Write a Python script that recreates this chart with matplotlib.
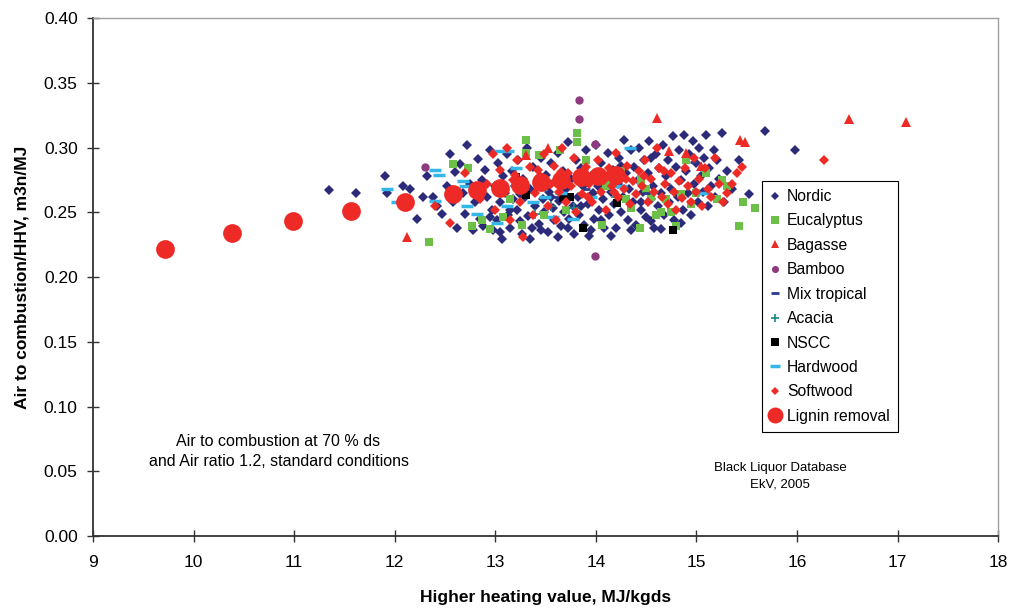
import numpy as np
import matplotlib
matplotlib.use("Agg")
import matplotlib.pyplot as plt

plt.rcParams['font.family'] = ['Liberation Sans', 'DejaVu Sans']

# data: (HHV MJ/kgds, air/HHV m3n/MJ)
nordic = [
    (11.35, 0.267), (11.62, 0.265), (11.90, 0.278), (11.92, 0.265), (12.08, 0.270),
    (12.15, 0.268), (12.22, 0.245), (12.28, 0.262),
    (12.32, 0.278), (12.38, 0.262), (12.42, 0.255), (12.47, 0.249), (12.52, 0.270),
    (12.55, 0.295), (12.58, 0.258), (12.60, 0.281),
    (12.62, 0.238), (12.65, 0.287), (12.68, 0.265), (12.70, 0.249), (12.72, 0.302),
    (12.75, 0.272), (12.78, 0.236), (12.80, 0.258), (12.83, 0.291), (12.85, 0.245),
    (12.87, 0.275), (12.88, 0.239), (12.90, 0.283),
    (12.92, 0.262), (12.95, 0.298), (12.97, 0.252), (12.98, 0.236), (13.00, 0.270),
    (13.02, 0.244), (13.03, 0.288), (13.05, 0.258), (13.07, 0.229), (13.08, 0.278),
    (13.10, 0.265), (13.12, 0.295), (13.13, 0.248), (13.15, 0.238), (13.17, 0.282),
    (13.18, 0.260), (13.20, 0.270),
    (13.22, 0.252), (13.23, 0.290), (13.25, 0.243), (13.27, 0.233), (13.28, 0.276),
    (13.30, 0.262), (13.32, 0.300), (13.33, 0.247), (13.35, 0.268), (13.37, 0.238),
    (13.38, 0.285), (13.40, 0.255), (13.42, 0.272), (13.43, 0.241), (13.45, 0.292),
    (13.47, 0.260), (13.48, 0.250), (13.50, 0.279),
    (13.52, 0.235), (13.53, 0.266), (13.55, 0.288), (13.57, 0.253), (13.58, 0.244),
    (13.60, 0.274), (13.62, 0.296), (13.63, 0.259), (13.65, 0.239), (13.67, 0.282),
    (13.68, 0.250), (13.70, 0.268), (13.72, 0.304), (13.73, 0.245), (13.75, 0.276),
    (13.77, 0.255), (13.78, 0.233), (13.80, 0.290),
    (13.82, 0.262), (13.83, 0.248), (13.85, 0.284), (13.87, 0.270), (13.88, 0.240),
    (13.90, 0.298), (13.92, 0.256), (13.93, 0.232), (13.95, 0.278), (13.97, 0.265),
    (13.98, 0.245), (14.00, 0.302), (14.02, 0.270), (14.03, 0.252), (14.05, 0.288),
    (14.07, 0.260), (14.08, 0.238), (14.10, 0.276),
    (14.12, 0.296), (14.13, 0.248), (14.15, 0.266), (14.17, 0.283), (14.18, 0.256),
    (14.20, 0.238), (14.22, 0.272), (14.23, 0.292), (14.25, 0.250), (14.27, 0.262),
    (14.28, 0.306), (14.30, 0.280), (14.32, 0.244), (14.33, 0.268), (14.35, 0.298),
    (14.37, 0.258), (14.38, 0.285), (14.40, 0.240),
    (14.42, 0.275), (14.43, 0.300), (14.45, 0.252), (14.47, 0.266), (14.48, 0.290),
    (14.50, 0.246), (14.52, 0.280), (14.53, 0.305), (14.55, 0.260), (14.57, 0.270),
    (14.58, 0.238), (14.60, 0.295), (14.62, 0.255), (14.63, 0.284), (14.65, 0.265),
    (14.67, 0.302), (14.68, 0.248), (14.70, 0.278),
    (14.72, 0.290), (14.73, 0.258), (14.75, 0.268), (14.77, 0.309), (14.78, 0.244),
    (14.80, 0.285), (14.82, 0.262), (14.83, 0.298), (14.85, 0.275), (14.87, 0.252),
    (14.88, 0.310), (14.90, 0.282), (14.92, 0.265), (14.93, 0.295), (14.95, 0.248),
    (14.97, 0.305), (14.98, 0.272), (15.00, 0.288),
    (15.02, 0.258), (15.03, 0.300), (15.05, 0.278), (15.07, 0.266), (15.08, 0.292),
    (15.10, 0.310), (15.12, 0.255), (15.13, 0.284), (15.15, 0.270), (15.17, 0.298),
    (15.18, 0.262), (15.20, 0.290), (15.22, 0.276), (15.25, 0.311), (15.27, 0.258),
    (15.30, 0.282), (15.35, 0.268), (15.42, 0.290), (15.52, 0.264), (15.68, 0.313),
    (15.98, 0.298),
    (12.95, 0.246), (13.05, 0.235), (13.15, 0.252), (13.35, 0.229), (13.45, 0.236),
    (13.62, 0.231), (13.72, 0.238), (13.95, 0.236), (14.05, 0.244), (14.15, 0.232),
    (14.35, 0.236), (14.55, 0.243), (14.65, 0.237), (14.85, 0.242), (14.45, 0.258),
    (13.25, 0.264), (13.55, 0.262), (13.85, 0.255), (14.25, 0.286), (14.55, 0.292),
]
eucalyptus = [
    (12.34, 0.227), (12.58, 0.287), (12.73, 0.284), (12.77, 0.239), (12.87, 0.244),
    (12.80, 0.268), (12.95, 0.237), (13.08, 0.246), (13.15, 0.260), (13.27, 0.240),
    (13.31, 0.306), (13.31, 0.296), (13.43, 0.294), (13.48, 0.248), (13.64, 0.298),
    (13.70, 0.252), (13.81, 0.311), (13.81, 0.304), (13.90, 0.290), (14.06, 0.240),
    (14.10, 0.270), (14.15, 0.275), (14.25, 0.282), (14.30, 0.260), (14.35, 0.253),
    (14.44, 0.238), (14.45, 0.275), (14.50, 0.268), (14.55, 0.262), (14.60, 0.248),
    (14.65, 0.250), (14.70, 0.260), (14.75, 0.250), (14.80, 0.239), (14.85, 0.264),
    (14.90, 0.290), (14.95, 0.256), (15.00, 0.265), (15.10, 0.280), (15.20, 0.260),
    (15.25, 0.275), (15.30, 0.270), (15.42, 0.239), (15.46, 0.258), (15.58, 0.253),
]
bagasse = [
    (12.12, 0.231), (13.31, 0.294), (13.52, 0.300), (14.61, 0.323), (14.73, 0.297),
    (14.90, 0.296), (15.05, 0.286), (15.43, 0.306), (15.48, 0.304), (16.52, 0.322),
    (17.08, 0.320),
]
bamboo = [
    (12.30, 0.285), (13.83, 0.337), (13.83, 0.322), (13.99, 0.303), (13.99, 0.216),
]
mix_tropical = [
    (13.30, 0.270), (13.90, 0.268), (14.50, 0.265), (14.70, 0.272), (14.98, 0.289),
    (13.60, 0.262),
]
acacia = [
    (13.40, 0.249), (13.55, 0.255), (13.78, 0.253), (14.20, 0.262),
]
nscc = [
    (13.21, 0.277), (13.31, 0.263), (13.67, 0.261), (13.74, 0.262), (13.87, 0.238),
    (14.21, 0.257), (14.77, 0.236),
]
hardwood = [
    (11.92, 0.268), (12.02, 0.258), (12.40, 0.283), (12.44, 0.279), (12.40, 0.259),
    (12.68, 0.274), (12.70, 0.270), (12.72, 0.255), (12.82, 0.249), (13.02, 0.297),
    (13.13, 0.297), (13.21, 0.284), (13.02, 0.242), (13.12, 0.255), (13.49, 0.262),
    (13.38, 0.258), (13.57, 0.246), (13.77, 0.245), (13.45, 0.268), (14.34, 0.300),
    (15.08, 0.265), (13.95, 0.262), (14.25, 0.270), (13.65, 0.265),
]
softwood = [
    (12.40, 0.255), (12.55, 0.242), (12.62, 0.262), (12.70, 0.280), (12.85, 0.260),
    (12.92, 0.272), (12.98, 0.295), (13.00, 0.252), (13.05, 0.283), (13.08, 0.266),
    (13.12, 0.300), (13.15, 0.244), (13.18, 0.275), (13.22, 0.290), (13.25, 0.258),
    (13.28, 0.231), (13.30, 0.270), (13.35, 0.285), (13.38, 0.248), (13.40, 0.265),
    (13.44, 0.278), (13.48, 0.295), (13.52, 0.255), (13.55, 0.272), (13.58, 0.286),
    (13.60, 0.244), (13.63, 0.266), (13.66, 0.300), (13.70, 0.258), (13.72, 0.280),
    (13.75, 0.270), (13.78, 0.292), (13.80, 0.250), (13.83, 0.276), (13.86, 0.264),
    (13.90, 0.285), (13.93, 0.272), (13.96, 0.258), (14.00, 0.280), (14.02, 0.290),
    (14.05, 0.266), (14.08, 0.275), (14.10, 0.252), (14.13, 0.284), (14.16, 0.270),
    (14.20, 0.296), (14.22, 0.262), (14.25, 0.278), (14.28, 0.268), (14.31, 0.286),
    (14.34, 0.256), (14.37, 0.274), (14.40, 0.264), (14.43, 0.282), (14.46, 0.270),
    (14.49, 0.290), (14.52, 0.258), (14.55, 0.276), (14.58, 0.266), (14.61, 0.300),
    (14.63, 0.284), (14.66, 0.262), (14.69, 0.272), (14.72, 0.256), (14.75, 0.280),
    (14.78, 0.266), (14.80, 0.252), (14.83, 0.274), (14.86, 0.261), (14.89, 0.284),
    (14.92, 0.270), (14.95, 0.258), (14.98, 0.292), (15.00, 0.266), (15.03, 0.276),
    (15.06, 0.255), (15.09, 0.284), (15.12, 0.268), (15.15, 0.262), (15.18, 0.292),
    (15.22, 0.272), (15.26, 0.258), (15.30, 0.265), (15.35, 0.272), (15.40, 0.280),
    (15.45, 0.285), (16.27, 0.290),
    (13.20, 0.279), (13.42, 0.283), (13.65, 0.281), (13.88, 0.283), (14.12, 0.279),
    (14.30, 0.276), (14.48, 0.278), (14.68, 0.282), (13.92, 0.262), (14.18, 0.266),
]
lignin_hhv = [9.72, 10.38, 10.99, 11.57, 12.10, 12.58, 12.82, 13.05, 13.25, 13.45,
              13.65, 13.85, 14.02, 14.20]
lignin_air = [0.222, 0.234, 0.243, 0.251, 0.258, 0.264, 0.267, 0.269, 0.271, 0.273,
              0.275, 0.277, 0.278, 0.279]

series = [
    ("Nordic", nordic, dict(marker="D", color="#2B2B7A", ms=5.2)),
    ("Eucalyptus", eucalyptus, dict(marker="s", color="#6CBF47", ms=6)),
    ("Bagasse", bagasse, dict(marker="^", color="#EE2A27", ms=7)),
    ("Bamboo", bamboo, dict(marker="o", color="#8E3A7E", ms=6)),
    ("Mix tropical", mix_tropical, dict(marker="_", color="#2B3A8C", ms=6, mew=2)),
    ("Acacia", acacia, dict(marker="+", color="#138A8A", ms=6.5, mew=1.2)),
    ("NSCC", nscc, dict(marker="s", color="#000000", ms=6)),
    ("Hardwood", hardwood, dict(marker="_", color="#35B6E8", ms=9, mew=2.5)),
    ("Softwood", softwood, dict(marker="D", color="#EE2A27", ms=5.2)),
]

fig = plt.figure(figsize=(10.13, 6.08), dpi=100)
ax = fig.add_axes([0.0918, 0.1184, 0.8935, 0.852])

for name, pts, st in series:
    arr = np.array(pts)
    st = dict(st)
    mew = st.pop("mew", 0)
    ax.plot(arr[:, 0], arr[:, 1], linestyle="none", label=name,
            markeredgewidth=mew, markeredgecolor=st["color"], **st)

ax.plot(lignin_hhv, lignin_air, linestyle="none", marker="o", color="#EE2A27",
        ms=13.5, markeredgewidth=0, label="Lignin removal")

ax.set_xlim(9, 18)
ax.set_ylim(0, 0.40)
ax.set_xticks(range(9, 19))
ax.set_yticks(np.arange(0, 0.401, 0.05))
ax.yaxis.set_major_formatter(matplotlib.ticker.FormatStrFormatter("%.2f"))
ax.tick_params(direction="inout", length=8, width=1, color="#333333",
               labelsize=12.5, pad=7)
ax.tick_params(axis="x", pad=10)

for side in ("left", "bottom"):
    ax.spines[side].set_color("#333333")
    ax.spines[side].set_linewidth(1.3)
for side in ("top", "right"):
    ax.spines[side].set_color("#A0A0A0")
    ax.spines[side].set_linewidth(1.0)

ax.set_xlabel("Higher heating value, MJ/kgds", fontsize=12.5, fontweight="bold",
              labelpad=14)
ax.set_ylabel("Air to combustion/HHV, m3n/MJ", fontsize=12.5, fontweight="bold",
              labelpad=10)

ax.text(0.205, 0.163, "Air to combustion at 70 % ds\nand Air ratio 1.2, standard conditions",
        transform=ax.transAxes, ha="center", va="center", fontsize=11.5,
        linespacing=1.35)
ax.text(0.759, 0.115, "Black Liquor Database\nEkV, 2005", transform=ax.transAxes,
        ha="center", va="center", fontsize=9.5, linespacing=1.45)

leg = ax.legend(loc="upper right", bbox_to_anchor=(0.889, 0.685), fontsize=11.3,
                frameon=True, fancybox=False, edgecolor="black", framealpha=1,
                handlelength=0.7, handletextpad=0.4, borderpad=0.5,
                labelspacing=0.6, markerscale=0.85, borderaxespad=0)
leg.get_frame().set_linewidth(0.8)

fig.savefig("out.png", dpi=100)
